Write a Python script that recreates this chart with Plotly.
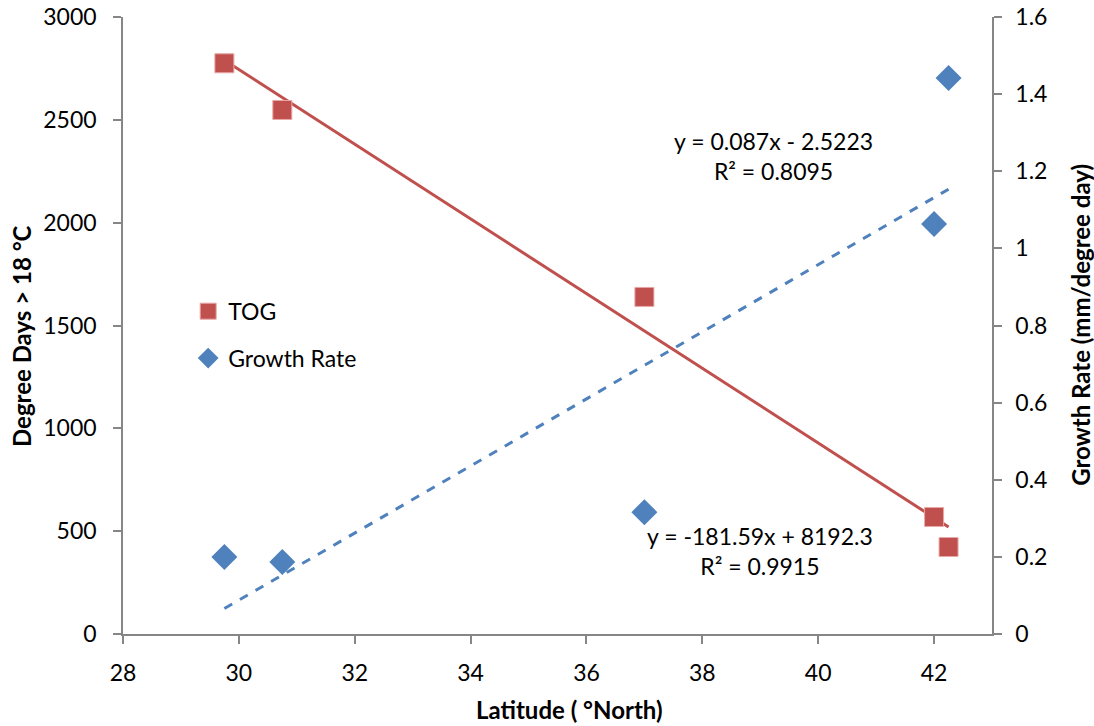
import numpy as np
import plotly.graph_objects as go

# Latitude (°North) of each site
latitude = [29.75, 30.75, 37.0, 42.0, 42.25]
# Degree days above 18 °C (TOG)
tog = [2775, 2548, 1639, 569, 423]
# Growth rate (mm/degree day)
growth_rate = [0.200, 0.187, 0.316, 1.063, 1.442]

# Linear trend coefficients
tog_slope, tog_intercept, tog_r2 = -181.59, 8192.3, 0.9915
gr_slope, gr_intercept, gr_r2 = 0.087, -2.5223, 0.8095

RED = "#C0504D"
BLUE = "#4F81BD"
AXIS = "#868686"
FONT = "Lato, 'Open Sans', sans-serif"
TICK_SIZE = 23
TITLE_SIZE = 24

xs = np.array([min(latitude), max(latitude)])

fig = go.Figure()

fig.add_trace(go.Scatter(
    x=xs, y=tog_slope * xs + tog_intercept, mode="lines",
    line=dict(color=RED, width=3), showlegend=False, hoverinfo="skip"))
fig.add_trace(go.Scatter(
    x=xs, y=gr_slope * xs + gr_intercept, mode="lines", yaxis="y2",
    line=dict(color=BLUE, width=3, dash="dash"), showlegend=False, hoverinfo="skip"))

fig.add_trace(go.Scatter(
    x=latitude, y=tog, mode="markers", name="TOG", legendgroup="tog",
    marker=dict(symbol="square", size=19, color=RED,
                line=dict(color="#E8A8A6", width=1))))
fig.add_trace(go.Scatter(
    x=latitude, y=growth_rate, mode="markers", name="Growth Rate", yaxis="y2",
    legendgroup="gr",
    marker=dict(symbol="diamond", size=20, color=BLUE,
                line=dict(color=BLUE, width=0))))

ann_font = dict(size=TICK_SIZE, color="#000", family=FONT)
fig.add_annotation(
    x=0.748, y=0.775, xref="paper", yref="paper", showarrow=False,
    xanchor="center", yanchor="middle", align="center", font=ann_font,
    text=f"y = {gr_slope}x - {abs(gr_intercept)}<br>R² = {gr_r2}")
fig.add_annotation(
    x=0.733, y=0.1345, xref="paper", yref="paper", showarrow=False,
    xanchor="center", yanchor="middle", align="center", font=ann_font,
    text=f"y = {tog_slope}x + {tog_intercept}<br>R² = {tog_r2}")

# Axis titles
title_font = dict(size=TITLE_SIZE, color="#000", family=FONT)
fig.add_annotation(
    x=0.5138, y=-0.1216, xref="paper", yref="paper", showarrow=False,
    xanchor="center", yanchor="middle", font=title_font,
    text="<b>Latitude ( °North)</b>")
fig.add_annotation(
    x=-0.1162, y=0.483, xref="paper", yref="paper", showarrow=False,
    xanchor="center", yanchor="middle", textangle=-90, font=title_font,
    text="<b>Degree Days > 18 °C</b>")
fig.add_annotation(
    x=1.1024, y=0.501, xref="paper", yref="paper", showarrow=False,
    xanchor="center", yanchor="middle", textangle=-90, font=title_font,
    text="<b>Growth Rate (mm/degree day)</b>")

axis_common = dict(
    showgrid=False, zeroline=False, showline=True, linecolor=AXIS, linewidth=1.5,
    ticks="outside", tickcolor=AXIS, ticklen=8, tickwidth=1.5, automargin=False,
    tickfont=dict(size=TICK_SIZE, color="#000", family=FONT))

fig.update_layout(
    width=1094, height=726,
    margin=dict(l=123, r=102, t=17, b=92),
    paper_bgcolor="white", plot_bgcolor="white",
    font=dict(family=FONT, color="#000"),
    xaxis=dict(range=[28, 43], dtick=2, tick0=28, ticklabelstandoff=10, **axis_common),
    yaxis=dict(range=[0, 3000], dtick=500, ticklabelstandoff=12, **axis_common),
    yaxis2=dict(range=[0, 1.6], dtick=0.2, overlaying="y", side="right",
                ticklabelstandoff=9, **axis_common),
    legend=dict(x=0.075, y=0.558, xanchor="left", yanchor="top",
                bgcolor="rgba(0,0,0,0)", font=dict(size=TICK_SIZE, family=FONT),
                itemsizing="trace", tracegroupgap=14),
    showlegend=True,
)

fig.write_html("out.html")
